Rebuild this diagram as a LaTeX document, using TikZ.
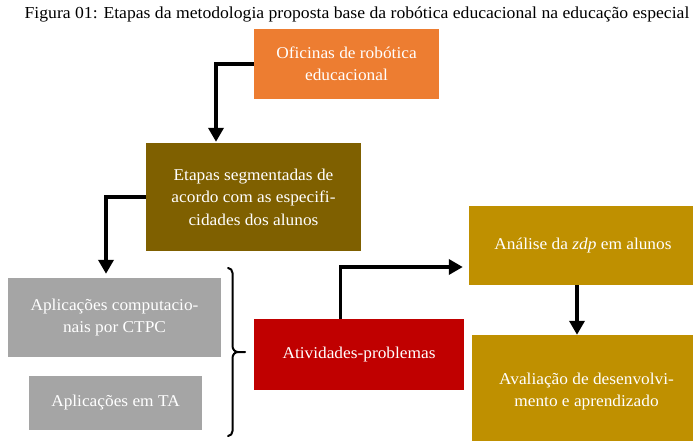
\documentclass[tikz,border=0pt]{standalone}
\usepackage{fontspec}
\setmainfont[FakeStretch=1.05]{Liberation Serif}
\usetikzlibrary{arrows.meta}
\definecolor{cOrange}{HTML}{ED7D31}
\definecolor{cBrown}{HTML}{7F6000}
\definecolor{cGray}{HTML}{A5A5A5}
\definecolor{cRed}{HTML}{C00000}
\definecolor{cGold}{HTML}{BF9000}
\tikzset{
  box/.style={rectangle, draw=none, text=white, align=center, inner sep=0pt,
    font=\fontsize{16.5}{22.5}\selectfont},
  arr/.style={line width=3.5pt, line join=miter, -{Triangle[width=15pt,length=14pt]}},
  bracepath/.style={line width=2pt, line cap=round, line join=round},
}
\begin{document}
\begin{tikzpicture}[x=1pt,y=-1pt]
\useasboundingbox (0,0) rectangle (693,441);
\clip (0,0) rectangle (693,441);
\node[font=\fontsize{16.8}{19}\selectfont] (title) at (357,14)
  {Figura 01: Etapas da metodologia proposta base da robótica educacional na educação especial};
\node[box, fill=cOrange, minimum width=185pt, minimum height=70pt] (ofic) at (346.5,64)
  {Oficinas de robótica\\educacional};
\node[box, fill=cBrown, minimum width=215pt, minimum height=108pt] (etapas) at (253.5,197)
  {Etapas segmentadas de\\acordo com as especifi-\\cidades dos alunos};
\node[box, fill=cGray, minimum width=213pt, minimum height=79pt] (ctpc) at (114.5,317.5)
  {Aplicações computacio-\\nais por CTPC};
\node[box, fill=cGray, minimum width=173pt, minimum height=54pt] (ta) at (115.5,403)
  {Aplicações em TA};
\node[box, fill=cRed, minimum width=210pt, minimum height=71pt] (ativ) at (359,354.5)
  {Atividades-problemas};
\node[box, fill=cGold, minimum width=228pt, minimum height=79pt] (zdp) at (583,245.5)
  {Análise da \textit{zdp} em alunos};
\node[box, fill=cGold, minimum width=229pt, minimum height=113pt] (aval) at (586.5,391.5)
  {Avaliação de desenvolvi-\\mento e aprendizado};
% connectors
\draw[arr, shorten >=1pt] (ofic.west) -| ([xshift=-37.5pt]etapas.north);
\draw[arr, shorten >=4pt] (etapas.west) -| ([xshift=-8.5pt]ctpc.north);
\draw[arr, shorten >=6pt] ([xshift=-18.3pt]ativ.north) |- ([yshift=-21.5pt]zdp.west);
\draw[arr, shorten >=0pt] ([xshift=-6pt]zdp.south) -- ([xshift=-6pt]zdp.south |- aval.north);
% brace
\coordinate (btop) at (228,268);
\coordinate (bbot) at (228,436);
\coordinate (btip) at (245,352);
\draw[bracepath] (btop) to[out=0,in=90] (232.5,273) -- (232.5,346)
  to[out=-90,in=180] (238,352) -- (btip);
\draw[bracepath] (bbot) to[out=0,in=-90] (232.5,431) -- (232.5,358)
  to[out=90,in=180] (238,352);
\end{tikzpicture}
\end{document}
